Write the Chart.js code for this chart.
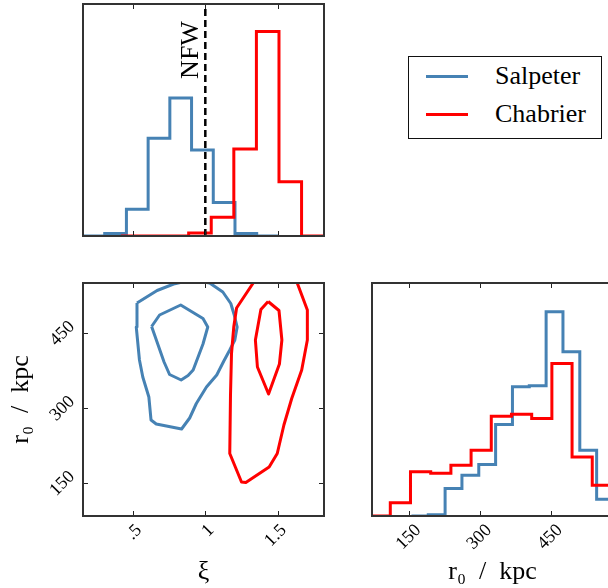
<!DOCTYPE html>
<html>
<head>
<meta charset="utf-8">
<title>Corner plot</title>
<script src="https://cdn.jsdelivr.net/npm/chart.js@4.4.1/dist/chart.umd.min.js"></script>
<style>
  html, body { margin:0; padding:0; background:#fff; }
  body { width:608px; height:588px; overflow:hidden; position:relative; }
  canvas { position:absolute; }
  #legend { position:absolute; left:408px; top:56px; width:194px; height:83px; box-sizing:border-box;
            border:1.3px solid #111; background:#fff; font-family:'Liberation Serif','DejaVu Serif',serif;
            font-size:26px; color:#000; }
  .row { position:absolute; left:0; height:38px; width:100%; }
  .swatch { position:absolute; left:17px; width:42px; height:0; border-top:3px solid; top:17.5px; }
  .lab { position:absolute; left:86px; top:0; line-height:38px; white-space:nowrap; }
</style>
</head>
<body>
<canvas id="cHistXi" width="340" height="250" style="left:0;top:0"></canvas>
<canvas id="cContour" width="340" height="318" style="left:0;top:270px"></canvas>
<canvas id="cHistR0" width="270" height="318" style="left:355px;top:270px"></canvas>
<div id="legend"></div>
<script>
// ---------------- data ----------------
const seriesNames = ['Salpeter', 'Chabrier'];
const seriesColors = ['#4682b4', '#ff0000'];

const xiTicks = [0.5, 1, 1.5];
const xiTickLabels = ['.5', '1', '1.5'];
const r0Ticks = [150, 300, 450];
const r0TickLabels = ['150', '300', '450'];
const xiTitle = 'ξ';
const r0Title = 'r₀\u2002/\u2002kpc';
const nfwXi = 1;
const nfwLabel = 'NFW';

// ξ marginal histograms (bin edges, heights)
const xiEdgesSalpeter = [0.155, 0.305, 0.455, 0.605, 0.755, 0.905, 1.055, 1.205, 1.355, 1.505];
const xiHistSalpeter  = [0, 0.012, 0.13, 0.477, 0.673, 0.42, 0.164, 0.012, 0];
const xiEdgesChabrier = [0.417, 0.573, 0.729, 0.885, 1.041, 1.197, 1.353, 1.509, 1.665, 1.821];
const xiHistChabrier  = [0, 0, 0, 0.015, 0.091, 0.424, 0.998, 0.265, 0];

// r0 marginal histograms
const r0EdgesSalpeter = [154.6, 190.3, 226, 261.7, 297.4, 333.1, 368.8, 404.5, 440.2, 475.9, 511.6, 547.3, 583];
const r0HistSalpeter  = [0, 0.006, 0.134, 0.199, 0.251, 0.446, 0.629, 0.634, 0.995, 0.8, 0.32, 0.081];
const r0EdgesChabrier = [67, 109.8, 152.6, 195.5, 238.3, 281.1, 323.9, 366.7, 409.6, 452.4, 495.2, 538, 580.8];
const r0HistChabrier  = [0, 0.065, 0.215, 0.208, 0.247, 0.32, 0.486, 0.496, 0.475, 0.743, 0.288, 0.15];

// joint contours (ξ, r0)
const salpeterOuterXi = [0.528, 0.667, 0.781, 0.906, 1.030, 1.121, 1.176, 1.200, 1.220, 1.204, 1.169, 1.128, 1.079, 1.008, 0.938, 0.892, 0.836, 0.661, 0.625, 0.610, 0.568, 0.545, 0.523, 0.528];
const salpeterOuterR0 = [510, 535, 548, 556, 550, 532, 509, 486, 462, 436, 416, 394, 366, 342, 309, 280, 258, 268, 276, 322, 362, 396, 462, 510];
const salpeterInnerXi = [0.629, 0.684, 0.830, 0.984, 1.017, 0.984, 0.916, 0.881, 0.833, 0.753, 0.715, 0.629];
const salpeterInnerR0 = [463, 486, 506, 479, 462, 428, 376, 365, 356, 367, 392, 463];
const chabrierOuterXi = [1.606, 1.635, 1.705, 1.705, 1.666, 1.597, 1.543, 1.497, 1.441, 1.280, 1.250, 1.169, 1.174, 1.181, 1.197, 1.216, 1.331, 1.391, 1.606];
const chabrierOuterR0 = [572, 550, 496, 436, 376, 319, 266, 209, 182, 151, 152, 209, 326, 409, 463, 500, 550, 572, 572];
const chabrierInnerXi = [1.434, 1.509, 1.529, 1.512, 1.437, 1.360, 1.346, 1.384, 1.434];
const chabrierInnerR0 = [513, 495, 436, 388, 328, 382, 436, 497, 513];

// axis ranges
const xiRange = [0.155, 1.82];
const r0RangeJoint = [84, 550];
const r0RangeHist = [71, 582];
const xiHistMax = 1.132;
const r0HistMax = 1.135;

// ---------------- helpers ----------------
const serif = "'Liberation Serif', 'DejaVu Serif', serif";
Chart.defaults.font.family = serif;
Chart.defaults.font.weight = 'normal';
Chart.defaults.color = '#000';

function stepPoints(edges, values) {
  const pts = [{x: edges[0], y: 0}];
  values.forEach((v, i) => pts.push({x: edges[i], y: v}));
  pts.push({x: edges[edges.length - 1], y: 0});
  return pts;
}
function stepDataset(label, edges, values, color) {
  return {label, data: stepPoints(edges, values), borderColor: color, borderWidth: 3,
          stepped: 'before', pointRadius: 0, borderJoinStyle: 'miter', fill: false};
}
function polyDataset(label, xs, ys, color) {
  return {label, data: xs.map((x, i) => ({x, y: ys[i]})), borderColor: color, borderWidth: 3,
          pointRadius: 0, tension: 0, borderJoinStyle: 'round', fill: false, clip: 0};
}
function zeroPad(s) { s.paddingLeft = 0; s.paddingRight = 0; s.paddingTop = 0; s.paddingBottom = 0; }
function setTicks(values) { return s => { s.ticks = values.map(v => ({value: v})); }; }

const mplAxes = {
  id: 'mplAxes',
  afterDatasetsDraw(chart, args, opts) {
    const {ctx, chartArea: a} = chart;
    const L = 5;
    ctx.save();
    ctx.strokeStyle = '#222';
    ctx.lineWidth = 1;
    ctx.beginPath();
    if (opts.xTicks) {
      const s = chart.scales.x;
      s.ticks.forEach(t => {
        const p = Math.round(s.getPixelForValue(t.value)) + 0.5;
        ctx.moveTo(p, a.bottom); ctx.lineTo(p, a.bottom - L);
        ctx.moveTo(p, a.top); ctx.lineTo(p, a.top + L);
      });
    }
    if (opts.yTicks) {
      const s = chart.scales.y;
      s.ticks.forEach(t => {
        const p = Math.round(s.getPixelForValue(t.value)) + 0.5;
        ctx.moveTo(a.left, p); ctx.lineTo(a.left + L, p);
        ctx.moveTo(a.right, p); ctx.lineTo(a.right - L, p);
      });
    }
    ctx.stroke();
    ctx.strokeStyle = '#333';
    ctx.lineWidth = 2;
    ctx.strokeRect(a.left, a.top, a.right - a.left, a.bottom - a.top);
    if (opts.label) {
      const px = chart.scales.x.getPixelForValue(opts.label.value);
      ctx.translate(px - 7.5, a.top + 46);
      ctx.rotate(-Math.PI / 2);
      ctx.font = '26px ' + serif;
      ctx.fillStyle = '#000';
      ctx.textAlign = 'center';
      ctx.textBaseline = 'alphabetic';
      ctx.fillText(opts.label.text, 0, 0);
    }
    ctx.restore();
  }
};

const hiddenAxis = (range, prop, size, ticks) => ({
  type: 'linear', min: range[0], max: range[1],
  grid: {display: false, drawTicks: false}, border: {display: false},
  ticks: {display: false},
  afterBuildTicks: ticks ? setTicks(ticks) : undefined,
  afterFit: s => { s[prop] = size; zeroPad(s); }
});

const baseOptions = (padding, pluginOpts, scales) => ({
  responsive: false, animation: false, devicePixelRatio: 1, events: [],
  layout: {padding},
  plugins: {legend: {display: false}, tooltip: {enabled: false}, mplAxes: pluginOpts},
  elements: {point: {radius: 0}, line: {tension: 0}},
  scales
});

const tickFont = {size: 18, weight: 'normal'};
const titleFont = {size: 26, weight: 'normal'};

// ---------------- ξ histogram ----------------
new Chart(document.getElementById('cHistXi'), {
  type: 'line',
  data: {datasets: [
    {label: nfwLabel, data: [{x: nfwXi, y: 0}, {x: nfwXi, y: xiHistMax}], borderColor: '#000',
     borderWidth: 2.5, borderDash: [7, 4], pointRadius: 0, fill: false},
    stepDataset(seriesNames[1], xiEdgesChabrier, xiHistChabrier, seriesColors[1]),
    stepDataset(seriesNames[0], xiEdgesSalpeter, xiHistSalpeter, seriesColors[0])
  ]},
  options: baseOptions({top: 4, right: 16, left: 0, bottom: 0},
    {xTicks: true, label: {text: nfwLabel, value: nfwXi}},
    {
      x: hiddenAxis(xiRange, 'height', 14, xiTicks),
      y: hiddenAxis([0, xiHistMax], 'width', 83, null)
    }),
  plugins: [mplAxes]
});

// ---------------- joint contours ----------------
new Chart(document.getElementById('cContour'), {
  type: 'line',
  data: {datasets: [
    polyDataset(seriesNames[1] + ' 68%', chabrierInnerXi, chabrierInnerR0, seriesColors[1]),
    polyDataset(seriesNames[1] + ' 95%', chabrierOuterXi, chabrierOuterR0, seriesColors[1]),
    polyDataset(seriesNames[0] + ' 68%', salpeterInnerXi, salpeterInnerR0, seriesColors[0]),
    polyDataset(seriesNames[0] + ' 95%', salpeterOuterXi, salpeterOuterR0, seriesColors[0])
  ]},
  options: baseOptions({top: 13, right: 16, left: 0, bottom: 0},
    {xTicks: true, yTicks: true},
    {
      x: {
        type: 'linear', min: xiRange[0], max: xiRange[1],
        grid: {display: false, drawTicks: false}, border: {display: false},
        ticks: {display: true, autoSkip: false, minRotation: 45, maxRotation: 45, padding: 4, labelOffset: 6,
                font: tickFont, color: '#000', callback: v => xiTickLabels[xiTicks.indexOf(v)]},
        title: {display: true, text: xiTitle, font: titleFont, color: '#000', padding: {top: 0, bottom: 0}},
        afterBuildTicks: setTicks(xiTicks),
        afterFit: s => { s.height = 72; zeroPad(s); }
      },
      y: {
        type: 'linear', min: r0RangeJoint[0], max: r0RangeJoint[1],
        grid: {display: false, drawTicks: false}, border: {display: false},
        ticks: {display: true, autoSkip: false, minRotation: 45, maxRotation: 45, padding: 11, labelOffset: -9,
                font: tickFont, color: '#000', callback: v => r0TickLabels[r0Ticks.indexOf(v)]},
        title: {display: true, text: r0Title, font: titleFont, color: '#000', padding: {top: 6, bottom: 0}},
        afterBuildTicks: setTicks(r0Ticks),
        afterFit: s => { s.width = 83; zeroPad(s); }
      }
    }),
  plugins: [mplAxes]
});

// ---------------- r0 histogram ----------------
new Chart(document.getElementById('cHistR0'), {
  type: 'line',
  data: {datasets: [
    stepDataset(seriesNames[1], r0EdgesChabrier, r0HistChabrier, seriesColors[1]),
    stepDataset(seriesNames[0], r0EdgesSalpeter, r0HistSalpeter, seriesColors[0])
  ]},
  options: baseOptions({top: 13, right: 12, left: 0, bottom: 0},
    {xTicks: true},
    {
      x: {
        type: 'linear', min: r0RangeHist[0], max: r0RangeHist[1],
        grid: {display: false, drawTicks: false}, border: {display: false},
        ticks: {display: true, autoSkip: false, minRotation: 45, maxRotation: 45, padding: 4, labelOffset: 9,
                font: tickFont, color: '#000', callback: v => r0TickLabels[r0Ticks.indexOf(v)]},
        title: {display: true, text: r0Title, font: titleFont, color: '#000', padding: {top: 0, bottom: 0}},
        afterBuildTicks: setTicks(r0Ticks),
        afterFit: s => { s.height = 72; zeroPad(s); }
      },
      y: hiddenAxis([0, r0HistMax], 'width', 17, null)
    }),
  plugins: [mplAxes]
});

// ---------------- legend ----------------
const legend = document.getElementById('legend');
seriesNames.forEach((name, i) => {
  const row = document.createElement('div');
  row.className = 'row';
  row.style.top = (i * 38) + 'px';
  const sw = document.createElement('div');
  sw.className = 'swatch';
  sw.style.borderTopColor = seriesColors[i];
  const lab = document.createElement('div');
  lab.className = 'lab';
  lab.textContent = name;
  row.appendChild(sw); row.appendChild(lab);
  legend.appendChild(row);
});
</script>
</body>
</html>
